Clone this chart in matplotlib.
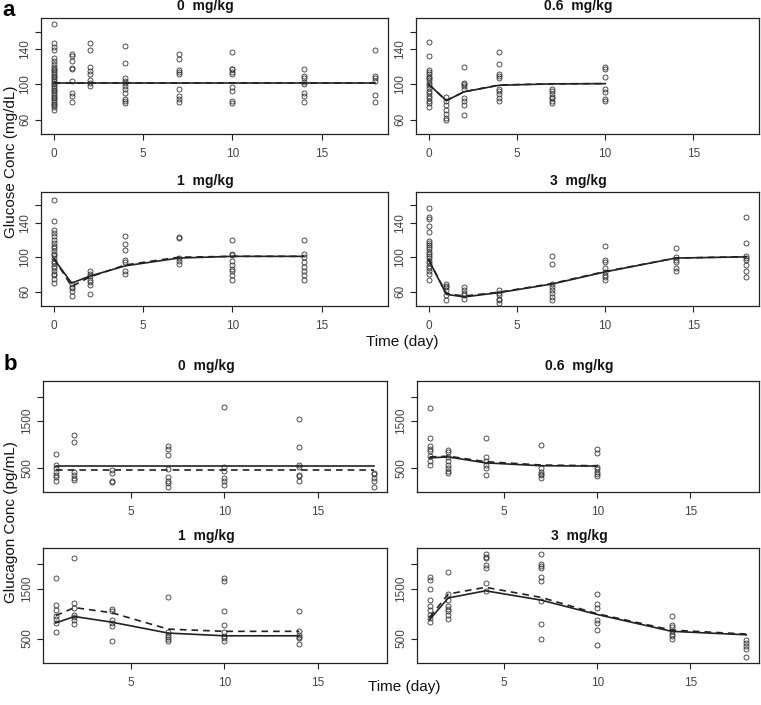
import matplotlib
matplotlib.use("Agg")
import matplotlib.pyplot as plt

# ---------------- data ----------------
dose_titles = ["0  mg/kg", "0.6  mg/kg", "1  mg/kg", "3  mg/kg"]

# Glucose observations (mg/dL), per sampling day
glu0_days = [0, 1, 2, 4, 7, 10, 14, 18]
glu0_obs = [
    [169, 147, 143, 139, 130, 127, 123, 120, 118, 116, 114, 112, 110, 108, 106, 104, 102,
     100, 98, 96, 94, 92, 90, 88, 86, 84, 82, 80, 78, 76, 74, 71],
    [135, 132, 127, 119, 117, 104, 90, 87, 80],
    [147, 139, 120, 115, 112, 105, 101, 98],
    [144, 124, 107, 104, 101, 98, 95, 90, 83, 81, 79],
    [135, 129, 116, 114, 112, 95, 87, 83, 80],
    [137, 118, 117, 114, 112, 97, 93, 81, 79],
    [117, 109, 107, 103, 100, 90, 87, 80],
    [139, 109, 107, 104, 88, 80],
]
glu0_pred_t = [0, 18]
glu0_pred = [101, 101]
glu0_pred2_t = [0, 18]
glu0_pred2 = [101, 101]

glu06_days = [0, 1, 2, 4, 7, 10]
glu06_obs = [
    [148, 132, 116, 114, 112, 108, 107, 105, 102, 99, 96, 93, 90, 87, 85, 81, 79, 74],
    [86, 81, 77, 71, 66, 62, 60],
    [120, 102, 100, 98, 95, 85, 81, 77, 65],
    [137, 123, 112, 110, 107, 95, 92, 89, 84, 81],
    [95, 93, 89, 86, 84, 81, 79],
    [120, 117, 108, 95, 91, 83, 81],
]
glu06_pred_t = [0, 1, 2, 4, 7, 10]
glu06_pred = [100, 81.5, 91.5, 99, 100.5, 100.8]
glu06_pred2_t = [0, 1, 2, 4, 7, 10]
glu06_pred2 = [100, 81.5, 91.5, 99.3, 100.6, 100.8]

glu1_days = [0, 1, 2, 4, 7, 10, 14]
glu1_obs = [
    [166, 142, 131, 128, 124, 120, 117, 113, 111, 107, 104, 102, 99, 96, 93, 90, 87.5,
     84.5, 81, 79, 75, 70],
    [69, 66, 64, 61, 55],
    [84.5, 81, 78, 74, 71, 68, 57],
    [125, 115, 108, 97, 94, 84.5, 81],
    [123, 122, 99.6, 96, 92],
    [120, 104, 102, 96, 91, 86, 84, 79, 74],
    [120, 104, 100, 95, 89, 84.5, 79, 74],
]
glu1_pred_t = [0, 1, 2, 4, 7, 10, 14]
glu1_pred = [98, 70, 78, 90, 99, 101, 101]
glu1_pred2_t = [0, 1, 2, 4, 7, 10, 14]
glu1_pred2 = [99, 66, 77, 91, 100, 101, 101]

glu3_days = [0, 1, 2, 4, 7, 10, 14, 18]
glu3_obs = [
    [157, 146, 144, 136, 129, 119, 117, 114, 112, 109, 106, 104, 101.5, 99, 96, 93, 90,
     87.5, 84.5, 81, 74],
    [69, 67, 65.5, 62.5, 56, 50],
    [66, 62, 59, 56, 52],
    [62, 59, 56, 52, 50, 47],
    [101, 92, 68.5, 65, 62, 58, 54, 50],
    [112.5, 97, 94, 87.5, 82.6, 79, 77, 74],
    [111, 100, 96.6, 94, 88, 84.5],
    [146, 117, 101.5, 99, 97, 91, 84.5, 77],
]
glu3_pred_t = [0, 1, 2, 4, 7, 10, 14, 18]
glu3_pred = [97, 57, 54, 59, 69, 83, 99, 100.4]
glu3_pred2_t = [0, 1, 2, 4, 7, 10, 14, 18]
glu3_pred2 = [97, 58, 55, 59.5, 69.5, 83.5, 99, 100.6]

# Glucagon observations (pg/mL)
gcg0_days = [1, 2, 4, 7, 10, 14, 18]
gcg0_obs = [
    [810, 570, 500, 430, 360, 315, 225],
    [1200, 1045, 430, 360, 307, 260],
    [465, 395, 225, 210],
    [960, 915, 770, 485, 315, 245, 190, 105],
    [1775, 535, 450, 295, 240, 155],
    [1535, 940, 570, 535, 360, 330, 245],
    [410, 385, 295, 225, 105],
]
gcg0_pred_t = [1, 18]
gcg0_pred = [555, 555]
gcg0_pred2_t = [1, 18]
gcg0_pred2 = [465, 465]

gcg06_days = [1, 2, 4, 7, 10]
gcg06_obs = [
    [1760, 1140, 960, 915, 865, 755, 660, 570],
    [895, 845, 730, 650, 570, 500, 450, 395],
    [1140, 730, 650, 570, 500, 360],
    [985, 500, 430, 385, 360, 295],
    [915, 825, 535, 480, 430, 385, 330],
]
gcg06_pred_t = [1, 2, 4, 7, 10]
gcg06_pred = [720, 740, 615, 555, 548]
gcg06_pred2_t = [1, 2, 4, 7, 10]
gcg06_pred2 = [740, 755, 640, 570, 555]

gcg1_days = [1, 2, 4, 7, 10, 14]
gcg1_obs = [
    [1720, 1170, 1080, 965, 900, 815, 635],
    [2130, 1220, 1125, 985, 930, 865, 795],
    [1100, 1055, 875, 810, 760, 440],
    [1340, 625, 575, 535, 485, 440],
    [1720, 1670, 1055, 775, 625, 555, 505, 440],
    [1055, 660, 575, 535, 505, 385],
]
gcg1_pred_t = [1, 2, 4, 7, 10, 14]
gcg1_pred = [815, 945, 830, 610, 555, 555]
gcg1_pred2_t = [1, 2, 4, 7, 10, 14]
gcg1_pred2 = [965, 1125, 1020, 690, 645, 645]

gcg3_days = [1, 2, 4, 7, 10, 14, 18]
gcg3_obs = [
    [1740, 1685, 1500, 1275, 1160, 1070, 985, 910, 830],
    [1835, 1400, 1275, 1150, 1100, 1055, 980, 900],
    [2210, 2150, 2120, 1990, 1935, 1615, 1465],
    [2210, 2010, 1970, 1925, 1750, 1660, 1260, 795, 500],
    [1410, 1190, 1115, 865, 810, 670, 370],
    [965, 780, 740, 645, 590, 545, 485],
    [465, 400, 350, 280, 125],
]
gcg3_pred_t = [1, 2, 4, 7, 10, 14, 18]
gcg3_pred = [885, 1320, 1465, 1275, 985, 645, 575]
gcg3_pred2_t = [1, 2, 4, 7, 10, 14, 18]
gcg3_pred2 = [930, 1400, 1535, 1330, 1000, 670, 590]

glu_yticks = [60, 100, 140, 160]
glu_ylabels = ["60", "100", "140", ""]
gcg_yticks = [500, 1500, 2000]
gcg_ylabels = ["500", "1500", ""]
xticks_vals = [0, 5, 10, 15]

# ---------------- figure ----------------
W, H = 761, 705
fig = plt.figure(figsize=(W / 100, H / 100), dpi=100)
plt.rcParams['font.family'] = ['Liberation Sans', 'DejaVu Sans']

INK = "#222222"
TXT = "#444444"


def box(x0, y0, x1, y1):
    return [x0 / W, 1 - y1 / H, (x1 - x0) / W, (y1 - y0) / H]


def panel(rect, title, days, obs, pt, pv, pt2, pv2, xlim, ylim, yticks, ylabels, title_gap):
    ax = fig.add_axes(box(*rect))
    for d, vals in zip(days, obs):
        ax.plot([d] * len(vals), vals, linestyle="none", marker="o", markersize=3.6,
                markerfacecolor="none", markeredgecolor="#333333", markeredgewidth=0.6)
    ax.plot(pt2, pv2, color=INK, lw=1.2, linestyle=(0, (4, 3)))
    ax.plot(pt, pv, color=INK, lw=1.2)
    ax.set_xlim(*xlim)
    ax.set_ylim(*ylim)
    ax.set_xticks([t for t in xticks_vals if xlim[0] <= t <= xlim[1]])
    ax.set_xticklabels([str(t) for t in xticks_vals if xlim[0] <= t <= xlim[1]])
    ax.set_yticks(yticks)
    ax.set_yticklabels(ylabels, rotation=90, va="center")
    ax.tick_params(axis="both", direction="out", length=4, width=0.8, colors=INK,
                   labelsize=8.5, labelcolor=TXT)
    ax.tick_params(axis="x", pad=6)
    ax.tick_params(axis="y", pad=3)
    for s in ax.spines.values():
        s.set_color(INK)
        s.set_linewidth(0.9)
    x0, y0, x1, y1 = rect
    fig.text(((x0 + x1) / 2 - 9) / W, 1 - (y0 - title_gap) / H, title,
             ha="center", va="center", fontsize=10, fontweight="bold", color="#111111")
    return ax


gxlim = (-0.72, 18.72)
bxlim = (0.32, 18.68)
gylim = (43.5, 175.5)
bylim = (5, 2330)

panel((41, 18, 388, 134), dose_titles[0], glu0_days, glu0_obs, glu0_pred_t, glu0_pred,
      glu0_pred2_t, glu0_pred2, gxlim, gylim, glu_yticks, glu_ylabels, 12)
panel((416, 18, 759, 134), dose_titles[1], glu06_days, glu06_obs, glu06_pred_t, glu06_pred,
      glu06_pred2_t, glu06_pred2, gxlim, gylim, glu_yticks, glu_ylabels, 12)
panel((41, 192, 388, 306), dose_titles[2], glu1_days, glu1_obs, glu1_pred_t, glu1_pred,
      glu1_pred2_t, glu1_pred2, gxlim, gylim, glu_yticks, glu_ylabels, 11)
panel((416, 192, 759, 306), dose_titles[3], glu3_days, glu3_obs, glu3_pred_t, glu3_pred,
      glu3_pred2_t, glu3_pred2, gxlim, gylim, glu_yticks, glu_ylabels, 11)

panel((43, 381, 387, 492), dose_titles[0], gcg0_days, gcg0_obs, gcg0_pred_t, gcg0_pred,
      gcg0_pred2_t, gcg0_pred2, bxlim, bylim, gcg_yticks, gcg_ylabels, 15)
panel((417, 381, 759, 492), dose_titles[1], gcg06_days, gcg06_obs, gcg06_pred_t, gcg06_pred,
      gcg06_pred2_t, gcg06_pred2, bxlim, bylim, gcg_yticks, gcg_ylabels, 15)
panel((43, 548, 387, 663), dose_titles[2], gcg1_days, gcg1_obs, gcg1_pred_t, gcg1_pred,
      gcg1_pred2_t, gcg1_pred2, bxlim, bylim, gcg_yticks, gcg_ylabels, 12)
panel((417, 548, 759, 663), dose_titles[3], gcg3_days, gcg3_obs, gcg3_pred_t, gcg3_pred,
      gcg3_pred2_t, gcg3_pred2, bxlim, bylim, gcg_yticks, gcg_ylabels, 12)

# outer labels
fig.text(402 / W, 1 - 342 / H, "Time (day)", ha="center", va="center", fontsize=11, color="#111111")
fig.text(404 / W, 1 - 687 / H, "Time (day)", ha="center", va="center", fontsize=11, color="#111111")
fig.text(11 / W, 1 - 162 / H, "Glucose Conc (mg/dL)", ha="center", va="center",
         rotation=90, fontsize=11, color="#111111")
fig.text(11 / W, 1 - 522 / H, "Glucagon Conc (pg/mL)", ha="center", va="center",
         rotation=90, fontsize=11, color="#111111")
fig.text(9 / W, 1 - 10 / H, "a", ha="center", va="center", fontsize=16, fontweight="bold")
fig.text(10 / W, 1 - 364 / H, "b", ha="center", va="center", fontsize=16, fontweight="bold")

fig.savefig("out.png", dpi=100)
